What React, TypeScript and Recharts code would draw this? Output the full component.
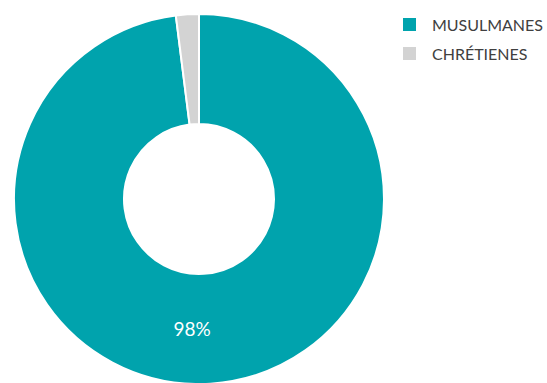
import React from 'react'
import { PieChart, Pie, Cell, Legend } from 'recharts'

const categories = ['MUSULMANES', 'CHRÉTIENES']
const shares = [98, 2]
const colors = ['#00A3AD', '#D3D3D3']

const data = categories.map((name, i) => ({ name, value: shares[i] }))

const RADIAN = Math.PI / 180
const FONT = 'Lato, "Open Sans", sans-serif'

const renderLabel = (props: any) => {
  const { cx, cy, midAngle, innerRadius, outerRadius, value, index } = props
  if (index !== 0) return null
  const r = (innerRadius + outerRadius) / 2
  const x = cx + r * Math.cos(-midAngle * RADIAN) - 15
  const y = cy + r * Math.sin(-midAngle * RADIAN)
  return (
    <text
      x={x}
      y={y}
      fill="#ffffff"
      fontSize={19}
      fontFamily={FONT}
      textAnchor="middle"
      dominantBaseline="central"
    >
      {`${value}%`}
    </text>
  )
}

const renderLegend = () => (
  <div style={{ fontFamily: FONT, fontSize: 16, color: '#404040' }}>
    {categories.map((c, i) => (
      <div key={c} style={{ display: 'flex', alignItems: 'center', height: 29 }}>
        <span style={{ width: 13, height: 13, background: colors[i], display: 'inline-block', marginRight: 16 }} />
        <span>{c}</span>
      </div>
    ))}
  </div>
)

export default function App() {
  return (
    <div style={{ position: 'absolute', left: 0, top: 0, width: 547, height: 383, background: '#fff' }}>
      <PieChart width={547} height={383} margin={{ top: 0, right: 0, bottom: 0, left: 0 }}>
        <Pie
          data={data}
          dataKey="value"
          nameKey="name"
          cx={199}
          cy={199}
          innerRadius={75}
          outerRadius={185}
          startAngle={90}
          endAngle={-270}
          stroke="#ffffff"
          strokeWidth={2}
          label={renderLabel}
          labelLine={false}
          isAnimationActive={false}
        >
          {data.map((d, i) => (
            <Cell key={d.name} fill={colors[i]} />
          ))}
        </Pie>
        <Legend
          layout="vertical"
          verticalAlign="top"
          align="right"
          content={renderLegend}
          wrapperStyle={{ left: 403, top: 10, width: 140 }}
        />
      </PieChart>
    </div>
  )
}
